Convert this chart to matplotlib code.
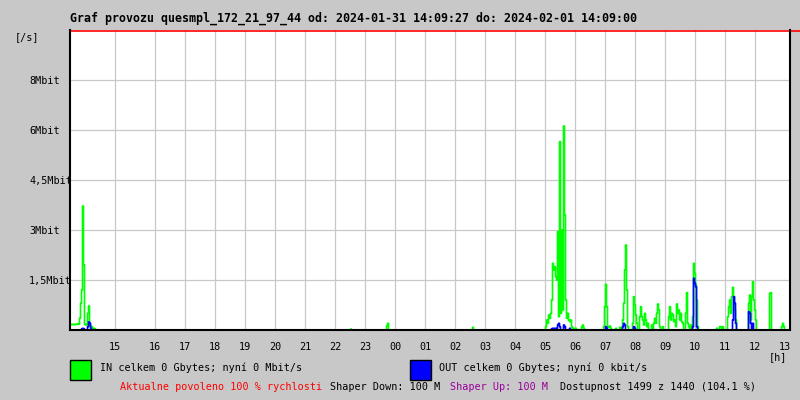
import numpy as np
import matplotlib
matplotlib.use("Agg")
import matplotlib.pyplot as plt

# traffic samples, one column = 2 minutes (720 columns across the graph)
in_cols = [0, 1, 2, 3, 4, 5, 6, 7, 8, 9, 10, 11, 12, 13, 14, 15, 16, 17, 18, 19,
           20, 21, 22, 23, 24, 25,
           281, 317, 318, 403,
           476, 477, 478, 479, 480, 481, 482, 483, 484, 485, 486, 487, 488, 489, 490,
           491, 492, 493, 494, 495, 496, 497, 498, 499, 500, 501, 502, 504, 506,
           512, 513, 514,
           534, 535, 536, 537, 538, 539, 540, 541, 546, 550, 551, 553, 554, 555, 556,
           557, 558, 563, 564, 565, 566, 567, 570, 571, 572, 573, 574, 575, 576, 577,
           578, 582, 584, 585, 586, 587, 588, 589, 590, 593, 599, 600, 601, 602, 603,
           604, 605, 606, 607, 608, 609, 610, 611, 612, 613, 616, 617, 618, 619, 621,
           623, 624, 625, 626, 627, 628,
           647, 650, 651, 653, 658, 659, 660, 661, 662, 663, 664, 665, 666,
           679, 680, 681, 682, 683, 684, 685, 686, 700, 701, 712, 713, 714]
in_vals = [0.17, 0.17, 0.16, 0.17, 0.17, 0.16, 0.17, 0.17, 0.18, 0.17,
           0.35, 0.8, 1.2, 3.72, 1.95, 0.17, 0.15, 0.17, 0.5, 0.72,
           0.12, 0.12, 0.1, 0.05, 0.05, 0.04,
           0.03, 0.12, 0.2, 0.08,
           0.1, 0.3, 0.2, 0.45, 0.35, 0.5, 0.9, 2.0, 1.8, 1.9, 1.6, 1.5, 2.95, 0.4, 5.65,
           0.5, 3.0, 0.6, 6.12, 3.45, 0.9, 0.35, 0.5, 0.3, 0.25, 0.3, 0.1, 0.05, 0.05,
           0.1, 0.15, 0.05,
           0.1, 0.7, 1.37, 0.7, 0.1, 0.08, 0.12, 0.05, 0.05, 0.08, 0.05, 0.3, 0.8, 1.8,
           2.55, 1.2, 0.1, 0.2, 1.0, 0.75, 0.45, 0.2, 0.4, 0.7, 0.4, 0.3, 0.15, 0.5, 0.3,
           0.1, 0.2, 0.15, 0.2, 0.35, 0.2, 0.5, 0.78, 0.6, 0.1, 0.1, 0.4, 0.7, 0.3, 0.5,
           0.45, 0.25, 0.3, 0.1, 0.78, 0.5, 0.6, 0.3, 0.5, 0.25, 0.2, 0.5, 1.12, 0.2, 0.1,
           0.15, 0.4, 2.0, 1.7, 1.35, 0.9, 0.1,
           0.05, 0.1, 0.1, 0.1, 0.4, 0.7, 0.9, 0.5, 1.0, 1.28, 1.0, 0.6, 0.3,
           0.8, 1.05, 0.3, 1.0, 1.45, 0.9, 0.6, 0.3, 1.1, 1.12, 0.1, 0.2, 0.1]

out_cols = [12, 13, 14, 18, 19, 20, 21,
            482, 483, 484, 485, 486, 488, 489, 490, 494, 495, 500,
            536, 537, 553, 554, 555, 564, 565,
            623, 624, 625, 626, 627, 663, 664, 665, 666, 679, 680, 681, 683]
out_vals = [0.03, 0.05, 0.03, 0.1, 0.24, 0.2, 0.05,
            0.04, 0.05, 0.05, 0.04, 0.05, 0.15, 0.2, 0.1, 0.15, 0.1, 0.05,
            0.1, 0.05, 0.1, 0.2, 0.15, 0.1, 0.05,
            0.1, 1.55, 1.4, 1.3, 0.1, 0.3, 1.0, 0.8, 0.2, 0.55, 0.5, 0.2, 0.2]

hour_pos = [45, 85, 115, 145, 175, 205, 235, 265, 295, 325, 355, 385, 415, 445,
            475, 505, 535, 565, 595, 625, 655, 685, 715]
hour_lbl = ["15", "16", "17", "18", "19", "20", "21", "22", "23", "00", "01", "02",
            "03", "04", "05", "06", "07", "08", "09", "10", "11", "12", "13"]
y_pos = [1.5, 3, 4.5, 6, 7.5]
y_lbl = ["1,5Mbit", "3Mbit", "4,5Mbit", "6Mbit", "8Mbit"]

ncol = 720
x = np.arange(ncol)
traffic_in = np.zeros(ncol)
traffic_in[in_cols] = in_vals
traffic_out = np.zeros(ncol)
traffic_out[out_cols] = out_vals

mono = "DejaVu Sans Mono"
bg = "#c8c8c8"
fs = 7.3

fig = plt.figure(figsize=(8, 4), dpi=100, facecolor=bg)
ax = fig.add_axes([70/800, 70/400, 720/800, 300/400])
ax.set_facecolor("white")
ax.set_xlim(0, ncol)
ax.set_ylim(0, 9)

# grid (no line under the last hour label)
for p in hour_pos[:-1]:
    ax.axvline(p, color="#c8c8c8", lw=0.9, zorder=0.5)
for v in y_pos:
    ax.axhline(v, color="#c8c8c8", lw=0.9, zorder=0.5)

ax.step(x, traffic_in, where="mid", color="#00ff00", lw=1.2)
ax.step(x, traffic_out, where="mid", color="#0000ff", lw=1.2)

ax.set_xticks(hour_pos)
ax.set_xticklabels(hour_lbl, fontfamily=mono, fontsize=fs)
ax.set_yticks(y_pos)
ax.set_yticklabels(y_lbl, fontfamily=mono, fontsize=fs)
for t in ax.get_yticklabels():
    t.set_ha("left")
ax.tick_params(axis="y", length=0, pad=29.5)
ax.tick_params(axis="x", length=0, pad=9)

for s in ["left", "bottom", "right"]:
    ax.spines[s].set_color("black")
    ax.spines[s].set_linewidth(1.5)
ax.spines["top"].set_visible(False)
ax.plot([0, 730], [8.97, 8.97], color="#ff0000", lw=1.2, clip_on=False)

def px(xp, yp):
    return xp/800, 1 - yp/400

fig.text(*px(70, 18), "Graf provozu quesmpl_172_21_97_44 od: 2024-01-31 14:09:27 do: 2024-02-01 14:09:00",
         fontfamily=mono, fontsize=8.35, fontweight="bold", va="center", ha="left")
fig.text(*px(15, 37), "[/s]", fontfamily=mono, fontsize=fs, va="center")
fig.text(*px(769, 357), "[h]", fontfamily=mono, fontsize=fs, va="center")

fig.patches.append(plt.Rectangle(px(70, 380), 21/800, 20/400, transform=fig.transFigure,
                                 facecolor="#00ff00", edgecolor="black", lw=1))
fig.patches.append(plt.Rectangle(px(410, 380), 21/800, 20/400, transform=fig.transFigure,
                                 facecolor="#0000ff", edgecolor="black", lw=1))
fig.text(*px(100, 368), "IN celkem 0 Gbytes; nyní 0 Mbit/s", fontfamily=mono, fontsize=fs, va="center")
fig.text(*px(439, 368), "OUT celkem 0 Gbytes; nyní 0 kbit/s", fontfamily=mono, fontsize=fs, va="center")

fig.text(*px(120, 387), "Aktualne povoleno 100 % rychlosti", color="red", fontfamily=mono, fontsize=fs, va="center")
fig.text(*px(330, 387), "Shaper Down: 100 M", color="black", fontfamily=mono, fontsize=fs, va="center")
fig.text(*px(450, 387), "Shaper Up: 100 M", color="#990099", fontfamily=mono, fontsize=fs, va="center")
fig.text(*px(560, 387), "Dostupnost 1499 z 1440 (104.1 %)", color="black", fontfamily=mono, fontsize=fs, va="center")

fig.savefig("out.png", dpi=100, facecolor=bg)
